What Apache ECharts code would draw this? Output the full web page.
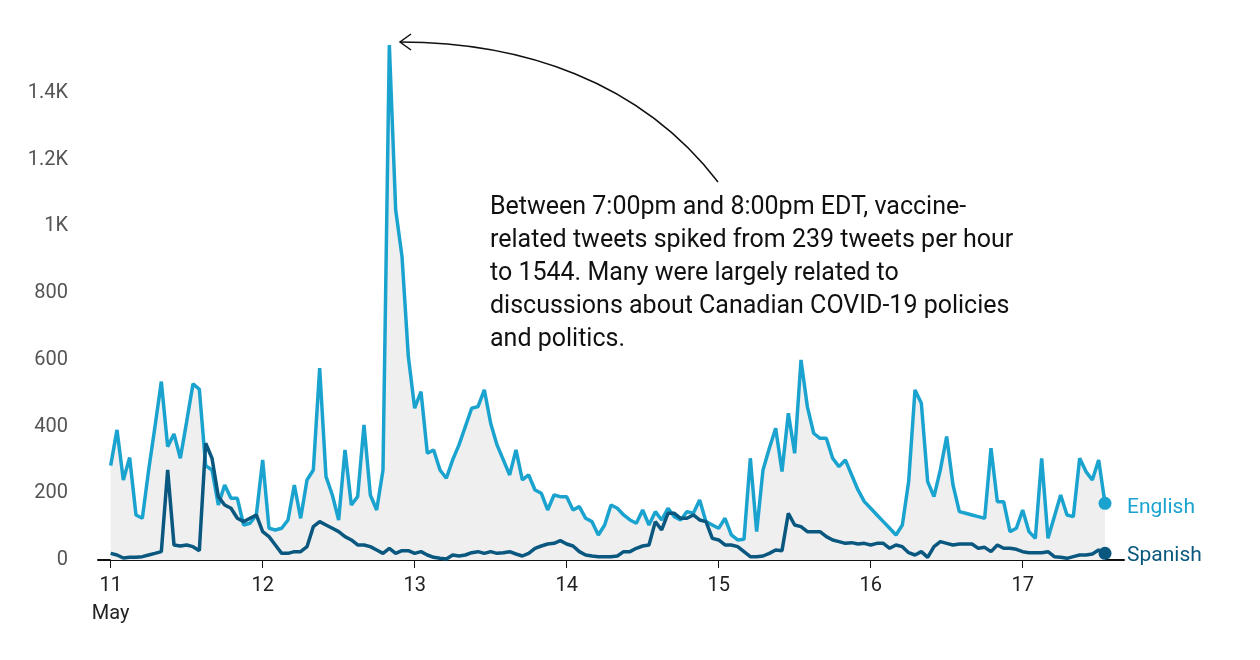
<!DOCTYPE html>
<html><head><meta charset="utf-8">
<script src="https://cdn.jsdelivr.net/npm/echarts@6/dist/echarts.min.js"></script>
<style>html,body{margin:0;background:#fff}#c{width:1260px;height:660px}</style>
</head><body><div id="c"></div>
<script>
const hours = Array.from({length:158},(_,i)=>i);
const english = [283,390,240,307,135,125,270,400,535,340,
378,305,415,528,512,283,270,165,225,185,
185,105,110,135,300,95,90,95,120,225,
125,240,270,575,250,195,120,330,165,190,
405,195,150,270,1544,1050,910,610,455,505,
320,330,270,245,300,345,400,455,460,510,
410,345,300,255,330,240,255,210,200,150,
195,190,190,150,160,125,115,75,105,165,
155,135,120,110,150,105,145,120,155,130,
120,145,140,180,115,105,95,125,75,60,
62,305,85,270,335,395,265,440,320,600,
460,380,365,365,305,280,300,255,210,175,
155,135,115,95,75,105,235,510,470,235,
190,270,370,225,145,140,135,130,125,335,
175,175,85,95,150,85,65,305,65,130,
195,135,130,305,265,240,300,170];
const spanish = [20,15,6,8,8,10,15,20,25,270,45,42,45,40,28,350,
305,190,165,155,125,115,125,135,85,70,45,20,20,25,25,40,100,115,105,95,85,70,60,45,45,40,30,20,35,20,28,28,
20,25,15,8,5,3,15,12,15,22,25,20,25,20,22,25,18,12,20,35,42,48,50,58,48,42,25,15,12,10,10,10,12,25,25,35,42,45,115,90,140,140,125,125,135,120,115,65,
60,45,45,40,25,10,10,12,20,30,28,140,105,100,85,85,85,70,60,55,50,52,48,50,45,50,50,35,45,40,22,15,25,8,40,55,50,45,48,48,48,35,38,25,45,35,35,32,25,22,22,22,25,10,8,5,10,15,15,18,30,20];
const dayLabels = ['11\nMay','12','13','14','15','16','17'];
const yTicks = [0,200,400,600,800,1000,1200,1400];
const yLabels = ['0','200','400','600','800','1K','1.2K','1.4K'];
const annotation = 'Between 7:00pm and 8:00pm EDT, vaccine-\nrelated tweets spiked from 239 tweets per hour\nto 1544. Many were largely related to\ndiscussions about Canadian COVID-19 policies\nand politics.';
const EN='#1ba3cf', ES='#0a587f';
const chart = echarts.init(document.getElementById('c'));
const font='Roboto';
chart.setOption({
  animation:false,
  textStyle:{fontFamily:font},
  grid:{left:98,right:136,top:43,bottom:100},
  xAxis:{type:'value',min:-2,max:160,
    axisLine:{lineStyle:{color:'#111',width:2}},
    axisTick:{show:true,customValues:[0,24,48,72,96,120,144],length:8,lineStyle:{color:'#111'}},
    axisLabel:{customValues:[0,24,48,72,96,120,144],formatter:v=>dayLabels[v/24],fontSize:20,color:'#222',lineHeight:28,margin:12},
    splitLine:{show:false}},
  yAxis:{type:'value',min:0,max:1550,
    axisLine:{show:false},axisTick:{show:false},splitLine:{show:false},
    axisLabel:{customValues:yTicks,formatter:v=>yLabels[yTicks.indexOf(v)],fontSize:20,color:'#555',margin:30}},
  series:[
    {type:'line',data:hours.map((h,i)=>[h,english[i]]),showSymbol:false,symbol:'circle',
     lineStyle:{color:EN,width:3.5},itemStyle:{color:EN},areaStyle:{color:'#efefef',opacity:1},
     endLabel:{show:true,formatter:'English',color:EN,fontSize:21,offset:[14,4]},
     markPoint:{symbol:'circle',symbolSize:13,data:[{coord:[157,english[157]]}],itemStyle:{color:EN},label:{show:false}},z:2},
    {type:'line',data:hours.map((h,i)=>[h,spanish[i]]),showSymbol:false,
     lineStyle:{color:ES,width:3.5},itemStyle:{color:ES},
     endLabel:{show:true,formatter:'Spanish',color:ES,fontSize:21,offset:[14,2]},
     markPoint:{symbol:'circle',symbolSize:13,data:[{coord:[157,spanish[157]]}],itemStyle:{color:ES},label:{show:false}},z:3}
  ],
  graphic:[
    {type:'text',left:490,top:191,style:{text:annotation,fontSize:25,lineHeight:33,fill:'#111',fontFamily:font}},
    {type:'bezierCurve',shape:{x1:718,y1:182,cpx1:640,cpy1:80,cpx2:520,cpy2:42,x2:400,y2:42},style:{stroke:'#111',lineWidth:1.5,fill:null}},
    {type:'polyline',shape:{points:[[411,34],[400,42],[411,50]]},style:{stroke:'#111',lineWidth:1.5,fill:null}}
  ]
});
</script></body></html>
